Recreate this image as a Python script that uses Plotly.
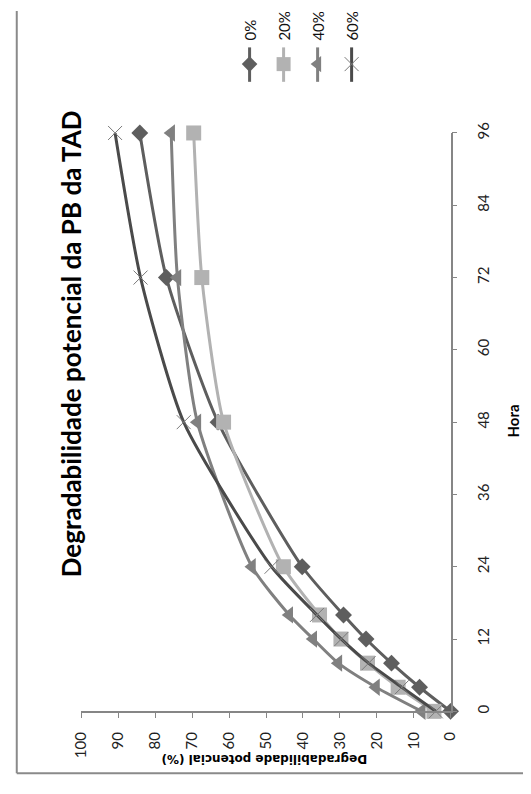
import plotly.graph_objects as go

W, H = 531, 794

hours = [0, 4, 8, 12, 16, 24, 48, 72, 96]
s_0 = [0, 8.4, 16.0, 22.9, 29.0, 40.2, 63.0, 77.0, 84.2]
s_20 = [4.5, 14.2, 22.5, 29.7, 35.5, 45.3, 61.5, 67.4, 69.6]
s_40 = [7.8, 20.2, 30.4, 37.2, 43.7, 53.8, 68.6, 74.0, 75.7]
s_60 = [4.0, 13.2, 22.2, 29.6, 36.2, 48.5, 72.3, 84.0, 90.9]

names = ["0%", "20%", "40%", "60%"]
series = [s_0, s_20, s_40, s_60]
colors = ["#5e5e5e", "#b2b2b2", "#808080", "#4a4a4a"]
symbols = ["diamond", "square", "triangle-left", "x-thin-open"]
msizes = [13, 15, 15, 14]

value_ticks = list(range(0, 101, 10))
hour_ticks = list(range(0, 97, 12))

title = "Degradabilidade potencial da PB da TAD"
x_title = "Hora"
y_title = "Degradabilidade potencial (%)"

# plot-area pixel box (chart is shown rotated 90 degrees)
PX0, PX1, PY0, PY1 = 74, 456, 124, 712

fig = go.Figure()
for nm, vals, col, sym, ms in zip(names, series, colors, symbols, msizes):
    if sym == "x-thin-open":
        mk = dict(symbol=sym, size=ms, color="#7a7a7a", line=dict(width=1, color="#7a7a7a"))
    else:
        mk = dict(symbol=sym, size=ms, color=col, line=dict(width=0))
    fig.add_trace(go.Scatter(
        x=vals, y=hours, name=nm, mode="lines+markers",
        line=dict(color=col, width=3, shape="spline", smoothing=0.6),
        marker=mk, cliponaxis=False, showlegend=False,
    ))

# custom rotated legend on an overlay pixel axis
leg_x0, leg_step = 248, 35.2
leg_line = [37, 72]
leg_marker_y = 54
for i, (nm, col, sym, ms) in enumerate(zip(names, colors, symbols, msizes)):
    cx = leg_x0 + i * leg_step
    fig.add_trace(go.Scatter(x=[cx, cx], y=leg_line, mode="lines",
                             line=dict(color=col, width=3), xaxis="x2", yaxis="y2",
                             showlegend=False, hoverinfo="skip"))
    if sym == "x-thin-open":
        mk = dict(symbol=sym, size=ms, color="#7a7a7a", line=dict(width=1, color="#7a7a7a"))
    else:
        mk = dict(symbol=sym, size=ms - 1, color=col, line=dict(width=0))
    fig.add_trace(go.Scatter(x=[cx], y=[leg_marker_y], mode="markers", marker=mk,
                             xaxis="x2", yaxis="y2", showlegend=False, hoverinfo="skip",
                             cliponaxis=False))
    fig.add_annotation(text=nm, x=cx / W, y=1 - 32 / H, xref="paper", yref="paper",
                       xanchor="center", yanchor="bottom", textangle=-90, showarrow=False,
                       font=dict(family="Lato", size=15, color="#111"))

axis_col = "#868686"
fig.update_layout(
    width=W, height=H,
    margin=dict(l=0, r=0, t=0, b=0),
    paper_bgcolor="white", plot_bgcolor="rgba(0,0,0,0)",
    xaxis=dict(domain=[PX0 / W, PX1 / W], range=[100, 0], tickvals=value_ticks, anchor="y",
               showgrid=False, zeroline=False, showline=True, linecolor=axis_col, linewidth=1.5,
               ticks="outside", ticklen=5, tickcolor=axis_col, tickangle=-90,
               ticklabelstandoff=8,
               tickfont=dict(family="Lato", size=15, color="#222")),
    yaxis=dict(domain=[1 - PY1 / H, 1 - PY0 / H], range=[0, 96], tickvals=hour_ticks, anchor="x",
               side="right", showgrid=False, zeroline=False, showline=True, linecolor=axis_col,
               linewidth=1.5, ticks="outside", ticklen=5, tickcolor=axis_col, tickangle=-90,
               ticklabelstandoff=14,
               tickfont=dict(family="Lato", size=15, color="#222")),
    xaxis2=dict(domain=[0, 1], range=[0, W], visible=False, fixedrange=True, anchor="y2"),
    yaxis2=dict(domain=[0, 1], range=[H, 0], visible=False, fixedrange=True, anchor="x2"),
)

fig.add_annotation(text="<b>" + title + "</b>", x=64 / W, y=1 - 338 / H, xref="paper", yref="paper",
                   textangle=-90, showarrow=False, xanchor="center", yanchor="middle",
                   font=dict(family="Lato", size=26, color="#000"))
fig.add_annotation(text="<b>" + x_title + "</b>", x=521 / W, y=1 - 417 / H, xref="paper", yref="paper",
                   textangle=-90, showarrow=False, xanchor="center", yanchor="middle",
                   font=dict(family="Lato", size=15, color="#000"))
fig.add_annotation(text="<b>" + y_title + "</b>", x=263 / W, y=1 - 761 / H, xref="paper", yref="paper",
                   textangle=180, showarrow=False, xanchor="center", yanchor="middle",
                   font=dict(family="DejaVu Sans", size=12, color="#000"))

# outer chart frame (left and bottom edges visible)
fig.add_shape(type="line", xref="paper", yref="paper", x0=7 / W, x1=7 / W, y0=1, y1=1 - 775 / H,
              line=dict(color="#8a8a8a", width=2))
fig.add_shape(type="line", xref="paper", yref="paper", x0=7 / W, x1=1, y0=1 - 775 / H, y1=1 - 775 / H,
              line=dict(color="#8a8a8a", width=2))

fig.write_html("out.html")
